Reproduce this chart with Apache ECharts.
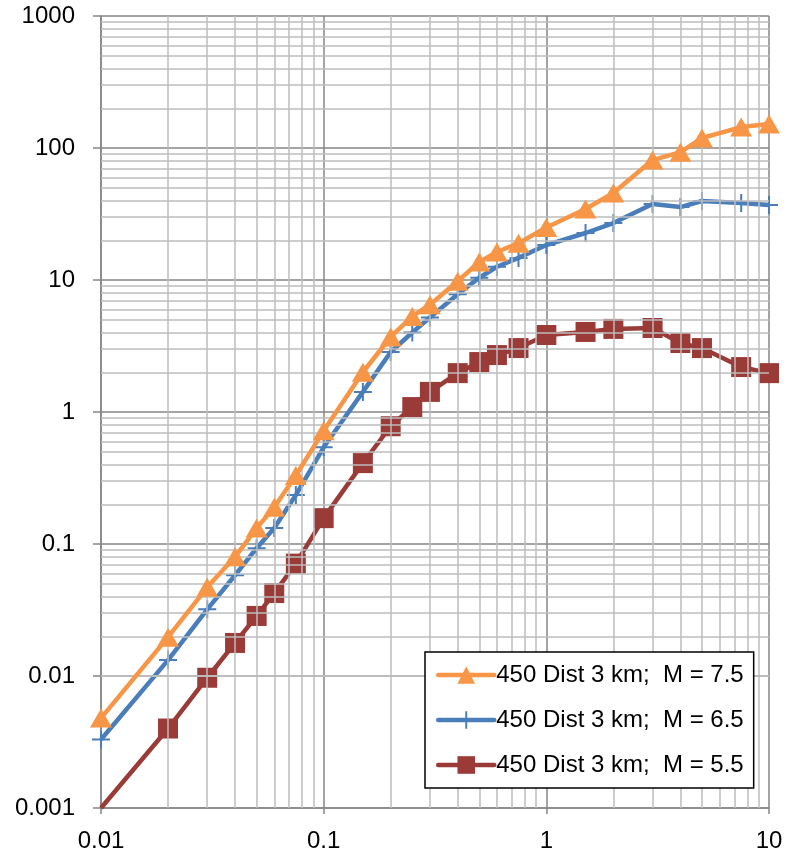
<!DOCTYPE html>
<html><head><meta charset="utf-8">
<script src="https://cdn.jsdelivr.net/npm/echarts@6/dist/echarts.min.js"></script>
<style>html,body{margin:0;padding:0;background:#fff}#c{width:798px;height:856px}</style>
</head><body><div id="c"></div>
<script>
var periods = [0.01,0.02,0.03,0.04,0.05,0.06,0.075,0.1,0.15,0.2,0.25,0.3,0.4,0.5,0.6,0.75,1,1.5,2,3,4,5,7.5,10];
var m75 = [0.0048,0.0197,0.047,0.08,0.132,0.19,0.33,0.72,2.0,3.7,5.3,6.5,9.8,13.7,16.3,19,25,34.5,45.6,81,93,119,144,152];
var m65 = [0.0033,0.0132,0.032,0.058,0.093,0.132,0.235,0.54,1.42,2.85,4.0,5.2,7.8,10.4,12.6,14.7,18.4,22.7,27,37.7,35.7,39.7,38.3,37];
var m55 = [0.001,0.004,0.0097,0.0178,0.0285,0.0425,0.071,0.157,0.41,0.78,1.09,1.42,1.97,2.39,2.7,3.05,3.83,4.04,4.26,4.33,3.33,3.05,2.19,1.97];
var names = ['450 Dist 3 km;  M = 7.5','450 Dist 3 km;  M = 6.5','450 Dist 3 km;  M = 5.5'];
var yMin = 0.001, yMax = 1000, xMin = 0.01, xMax = 10;

function pairs(ys){
  return periods.map(function(x,i){
    var item = {value:[x, ys[i]]};
    if (ys[i] <= yMin) item.symbol = 'none';
    return item;
  });
}
function minorValues(lo, hi){
  var out = [];
  for (var e = lo; e < hi; e++) for (var m = 2; m <= 9; m++) out.push(Number((m*Math.pow(10,e)).toPrecision(6)));
  return out;
}
var xMinor = minorValues(-2, 1);
var yMinor = minorValues(-3, 3);
function fmt(v){ return String(Number(Number(v).toPrecision(6))); }

var FONT = 'Liberation Sans';
var plus = 'path://M0,8h18v2h-18z M8,0h2v18h-2z';
var chart = echarts.init(document.getElementById('c'), null, {renderer:'canvas'});
chart.setOption({
  animation:false,
  backgroundColor:'#fff',
  grid:{left:101,right:29,top:16,bottom:48,containLabel:false},
  xAxis:{type:'log',logBase:10,min:xMin,max:xMax,interval:1,
    axisLine:{show:true,lineStyle:{color:'#868686',width:1.5}},
    axisTick:{show:true,length:6,lineStyle:{color:'#868686',width:1.5}},
    axisLabel:{fontFamily:FONT,fontSize:24,color:'#000',margin:21,formatter:fmt},
    splitLine:{show:true,lineStyle:{color:'#868686',width:1.5}},
    minorTick:{show:false},minorSplitLine:{show:false}},
  yAxis:{type:'log',logBase:10,min:yMin,max:yMax,interval:1,
    axisLine:{show:true,lineStyle:{color:'#868686',width:1.5}},
    axisTick:{show:true,length:8,lineStyle:{color:'#868686',width:1.5}},
    axisLabel:{fontFamily:FONT,fontSize:24,color:'#000',margin:26,formatter:fmt},
    splitLine:{show:true,lineStyle:{color:'#868686',width:1.5}},
    minorTick:{show:false},minorSplitLine:{show:false}},
  legend:{orient:'vertical',left:425,top:652,z:20,
    data:names,
    backgroundColor:'#fff',borderColor:'#000',borderWidth:1.5,
    padding:[11,10,11,11],itemGap:21,itemWidth:56,itemHeight:22,
    lineStyle:{width:4.5,cap:'round'},
    textStyle:{fontFamily:FONT,fontSize:24,color:'#000',padding:[0,0,0,-3]}},
  series:[
    {type:'line',name:'grid',data:[],silent:true,z:0,
      markLine:{silent:true,symbol:['none','none'],label:{show:false},animation:false,
        lineStyle:{type:'solid',color:'#BDBDBD',width:1.5},
        data: xMinor.map(function(v){return {xAxis:v};}).concat(yMinor.map(function(v){return {yAxis:v};}))}},
    {type:'line',name:names[2],data:pairs(m55),z:3,
      symbol:'rect',symbolSize:20,
      lineStyle:{color:'#9B3B38',width:4.5},itemStyle:{color:'#9B3B38'}},
    {type:'line',name:names[1],data:pairs(m65),z:4,
      symbol:plus,symbolSize:18,
      lineStyle:{color:'#4A7EBB',width:4.5},itemStyle:{color:'#4A7EBB'}},
    {type:'line',name:names[0],data:pairs(m75),z:5,
      symbol:'triangle',symbolSize:[22,19],
      lineStyle:{color:'#F79646',width:4.5},itemStyle:{color:'#F79646'}}
  ]
});
</script></body></html>
